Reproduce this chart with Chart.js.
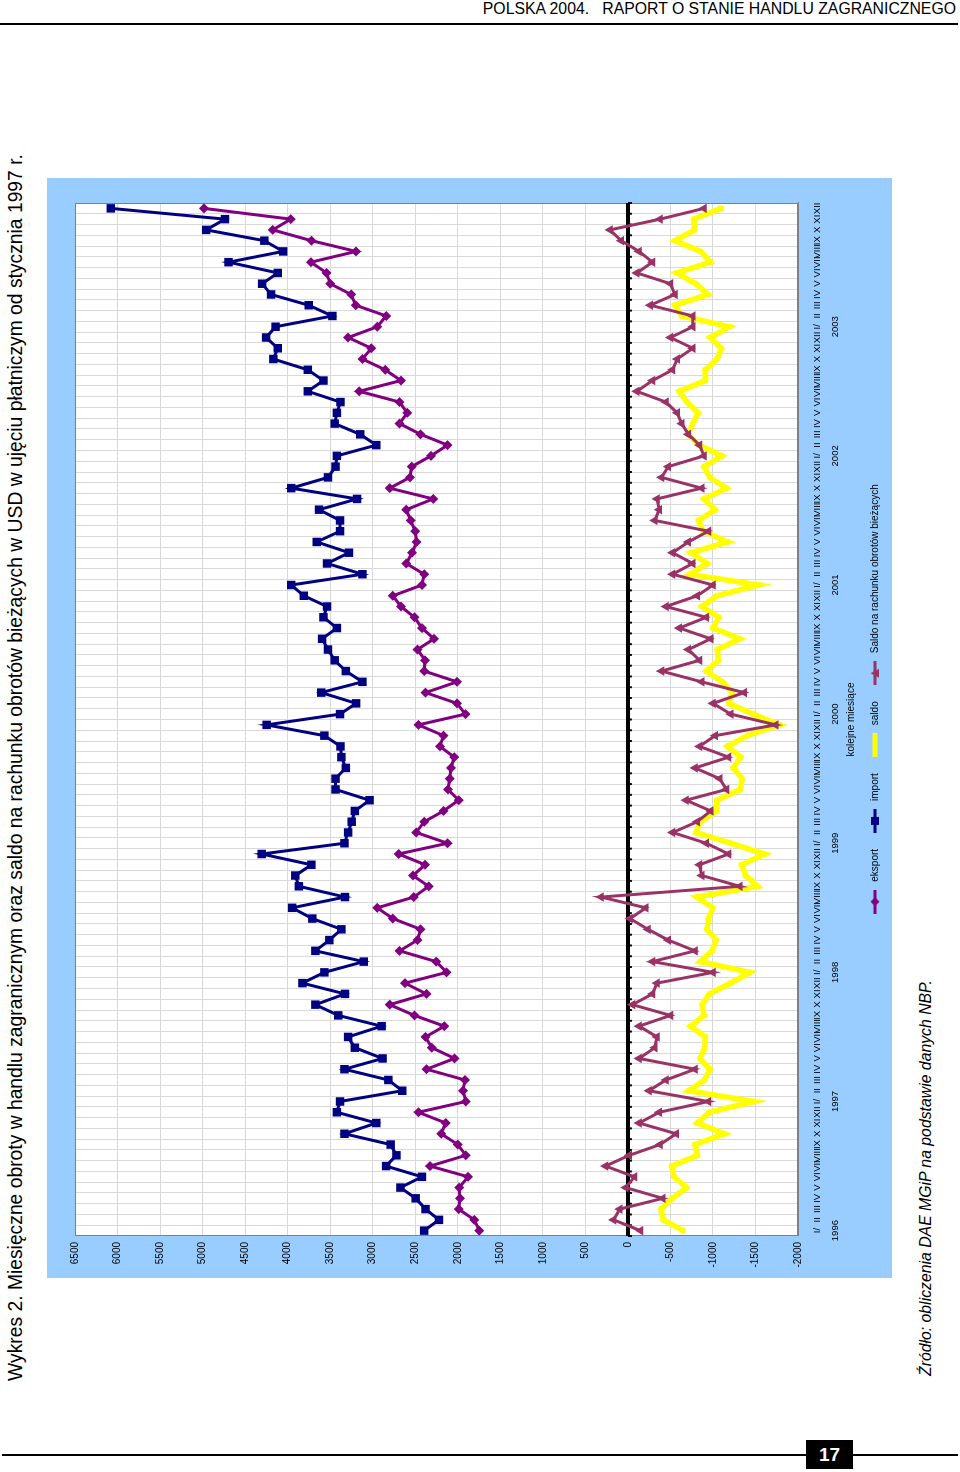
<!DOCTYPE html>
<html><head><meta charset="utf-8">
<script src="https://cdn.jsdelivr.net/npm/chart.js@4.4.0/dist/chart.umd.min.js"></script>
<style>
html,body{margin:0;padding:0;background:#fff;width:960px;height:1472px;overflow:hidden;font-family:Arial,"Liberation Sans",sans-serif;color:#000;}
#hdr{position:absolute;right:4px;top:-1px;font-size:15.8px;line-height:20px;white-space:pre;}
#hline{position:absolute;left:0;top:23px;width:958px;height:0;border-top:2px solid #000;}
#title{position:absolute;left:5px;top:1381px;transform-origin:0 0;transform:rotate(-90deg);white-space:nowrap;font-size:19.3px;line-height:22px;}
#box{position:absolute;left:47px;top:1278px;width:1100px;height:845px;transform-origin:0 0;transform:rotate(-90deg);background:#99CCFF;}
#box canvas{display:block;}
#src{position:absolute;left:916px;top:1376px;transform-origin:0 0;transform:rotate(-90deg);white-space:nowrap;font-size:15.8px;line-height:20px;font-style:italic;}
#fline{position:absolute;left:2px;top:1454px;width:956px;height:0;border-top:2px solid #000;}
#pg{position:absolute;left:806px;top:1440px;width:47px;height:29px;background:#000;color:#fff;font-weight:bold;font-size:19px;line-height:29px;text-align:center;}
</style></head><body>
<div id="hdr">POLSKA 2004.   RAPORT O STANIE HANDLU ZAGRANICZNEGO</div>
<div id="hline"></div>
<div id="title">Wykres 2. Miesięczne obroty w handlu zagranicznym oraz saldo na rachunku obrotów bieżących w USD w ujęciu płatniczym od stycznia 1997 r.</div>
<div id="box"><canvas id="c" width="1100" height="845"></canvas></div>
<div id="src">Źródło: obliczenia DAE MGiP na podstawie danych NBP.</div>
<div id="fline"></div>
<div id="pg">17</div>
<script>
const years = [1996, 1997, 1998, 1999, 2000, 2001, 2002, 2003];
const months = ['I/', 'II', 'III', 'IV', 'V', 'VI', 'VII', 'VIII', 'IX', 'X', 'XI', 'XII'];
const yTicks = {min: -2000, max: 6500, step: 500};

const eksport = [
 1747,1805,1989,1974,1984,1879,2326,1905,2000,2195,2142,2463,
 1905,1937,1916,2368,2037,2305,2379,2158,2510,2800,2368,2621,
 2132,2253,2684,2474,2437,2763,2947,2516,2342,2526,2384,2695,
 2121,2489,2395,2168,1989,2116,2095,2079,2042,2210,2168,2463,
 1910,2010,2379,2010,2395,2384,2474,2279,2421,2510,2668,2763,
 2421,2395,2605,2537,2484,2500,2553,2605,2289,2800,2563,2542,
 2316,2121,2437,2684,2595,2684,3158,2668,2853,3121,3016,3289,
 2947,2842,3200,3253,3500,3542,3726,3195,3721,4174,3963,4984];
const importV = [
 2395,2221,2379,2495,2674,2421,2842,2721,2789,3332,2958,3421,
 3384,2653,2816,3332,2884,3210,3289,2895,3405,3674,3326,3826,
 3568,3105,3674,3510,3368,3710,3947,3326,3868,3910,3721,4305,
 3332,3289,3247,3210,3037,3437,3437,3316,3368,3379,3568,4247,
 3384,3195,3605,3121,3316,3447,3526,3595,3421,3579,3537,3810,
 3958,3121,3537,3279,3658,3384,3384,3631,3184,3958,3526,3437,
 3421,2958,3147,3447,3421,3379,3763,3579,3763,4168,4116,4253,
 4142,3474,3752,4195,4300,4116,4695,4053,4274,4958,4737,6079];
const saldo = [
 -648,-416,-390,-521,-690,-542,-516,-816,-789,-1137,-816,-958,
 -1479,-716,-900,-964,-847,-905,-910,-737,-895,-874,-958,-1205,
 -1436,-852,-990,-1036,-931,-947,-1000,-810,-1526,-1384,-1337,-1610,
 -1211,-800,-852,-1042,-1048,-1321,-1342,-1237,-1326,-1169,-1400,-1784,
 -1474,-1185,-1226,-1111,-921,-1063,-1052,-1316,-1000,-1069,-869,-1047,
 -1537,-726,-932,-742,-1174,-884,-831,-1026,-895,-1158,-963,-895,
 -1105,-837,-710,-763,-826,-695,-605,-911,-910,-1047,-1100,-964,
 -1195,-632,-552,-942,-800,-574,-969,-858,-553,-784,-774,-1095];
const saldoRachunku = [
 -147,168,95,-411,26,-79,263,-16,-379,-568,-132,-368,
 -947,-247,-447,-789,-132,-316,-342,-132,-500,-53,-289,-342,
 -1000,-289,-789,-474,-237,-26,-211,316,-1316,-868,-842,-1184,
 -921,-526,-816,-974,-684,-1158,-1079,-789,-1184,-842,-1026,-1737,
 -1210,-1000,-1368,-868,-395,-842,-711,-974,-605,-921,-447,-816,
 -1000,-526,-763,-526,-711,-947,-316,-368,-342,-868,-395,-474,
 -895,-842,-711,-632,-579,-447,-105,-289,-526,-579,-763,-500,
 -763,-763,-263,-553,-500,-105,-289,-132,79,211,-379,-895];

const categories = [];
years.forEach(y => months.forEach((m, k) => categories.push(k === 0 ? [m, String(y)] : m)));

const C_EKS = '#800080', C_IMP = '#000080', C_SAL = '#FFFF00', C_CA = '#993366';

function legendIcon(color, lw, kind) {
  const c = document.createElement('canvas');
  c.width = 24; c.height = 12;
  const g = c.getContext('2d');
  g.strokeStyle = color; g.lineWidth = lw;
  g.beginPath(); g.moveTo(0, 6); g.lineTo(24, 6); g.stroke();
  g.fillStyle = color;
  g.beginPath();
  if (kind === 'diamond') { g.moveTo(12, 1.5); g.lineTo(16.5, 6); g.lineTo(12, 10.5); g.lineTo(7.5, 6); g.closePath(); g.fill(); }
  else if (kind === 'square') { g.fillRect(8, 2, 8, 8); }
  else if (kind === 'triangle') { g.moveTo(12, 1.5); g.lineTo(16.5, 10); g.lineTo(7.5, 10); g.closePath(); g.fill(); }
  return c;
}
const icons = [legendIcon(C_EKS, 3, 'diamond'), legendIcon(C_IMP, 3, 'square'), legendIcon(C_SAL, 5, null), legendIcon(C_CA, 3, 'triangle')];

const chartBg = {
  id: 'chartBg',
  afterLayout(chart) {
    if (chart.legend) { chart.legend.left += 19; chart.legend.right += 19; }
  },
  beforeDraw(chart) {
    const {ctx, chartArea: a} = chart;
    ctx.save(); ctx.fillStyle = '#fff'; ctx.fillRect(a.left, a.top, a.width, a.height); ctx.restore();
  },
  beforeDatasetsDraw(chart) {
    const {ctx, chartArea: a, scales: {x, y}} = chart;
    ctx.save();
    ctx.strokeStyle = '#808080'; ctx.lineWidth = 1;
    ctx.strokeRect(a.left + 0.5, a.top + 0.5, a.width - 1, a.height - 1);
    const y0 = y.getPixelForValue(0);
    ctx.strokeStyle = '#000'; ctx.lineWidth = 4;
    ctx.beginPath(); ctx.moveTo(a.left, y0); ctx.lineTo(a.right, y0); ctx.stroke();
    const n = categories.length;
    const step = x.getPixelForValue(1) - x.getPixelForValue(0);
    ctx.lineWidth = 2;
    for (let i = 0; i <= n; i++) {
      const px = x.getPixelForValue(0) - step / 2 + i * step;
      ctx.beginPath(); ctx.moveTo(px, y0); ctx.lineTo(px, y0 + 4); ctx.stroke();
    }
    ctx.restore();
  }
};

new Chart(document.getElementById('c'), {
  type: 'line',
  data: {
    labels: categories,
    datasets: [
      {label: 'eksport', data: eksport, borderColor: C_EKS, backgroundColor: C_EKS, borderWidth: 3, pointStyle: 'rectRot', pointRadius: 5, pointBorderWidth: 0, order: 2},
      {label: 'import', data: importV, borderColor: C_IMP, backgroundColor: C_IMP, borderWidth: 3, pointStyle: 'rect', pointRadius: 6, pointBorderWidth: 0, order: 3},
      {label: 'saldo', data: saldo, borderColor: C_SAL, backgroundColor: C_SAL, borderWidth: 5.5, pointStyle: 'circle', pointRadius: 3, pointBorderWidth: 0, order: 1},
      {label: 'Saldo na rachunku obrotów bieżących', data: saldoRachunku, borderColor: C_CA, backgroundColor: C_CA, borderWidth: 3, pointStyle: 'triangle', pointRadius: 5.5, pointBorderWidth: 0, order: 0}
    ]
  },
  options: {
    responsive: false, animation: false, devicePixelRatio: 1,
    layout: {padding: {left: 0, right: 25, top: 28, bottom: 2}},
    elements: {line: {tension: 0}},
    plugins: {
      tooltip: {enabled: false},
      legend: {
        position: 'bottom', fullSize: false,
        labels: {
          usePointStyle: true, pointStyleWidth: 30, padding: 13, color: '#000',
          font: {size: 10, family: 'Arial, "Liberation Sans", sans-serif'},
          sort: (a, b) => a.datasetIndex - b.datasetIndex,
          generateLabels(chart) {
            const items = Chart.defaults.plugins.legend.labels.generateLabels(chart);
            items.forEach(it => { it.pointStyle = icons[it.datasetIndex]; });
            return items;
          }
        }
      }
    },
    scales: {
      x: {
        type: 'category', offset: true,
        grid: {offset: true, color: '#d9d9d9', drawTicks: false},
        border: {color: '#808080'},
        ticks: {autoSkip: false, maxRotation: 0, minRotation: 0, padding: 10, color: '#000',
          font: {size: 9.5, family: 'Arial, "Liberation Sans", sans-serif', lineHeight: '18px'}},
        title: {display: true, text: 'kolejne miesiące', color: '#000', padding: {top: 0, bottom: 0},
          font: {size: 10, family: 'Arial, "Liberation Sans", sans-serif'}},
        afterFit(s) { s.height = 59; }
      },
      y: {
        min: yTicks.min, max: yTicks.max,
        grid: {color: '#d9d9d9', drawTicks: false},
        border: {color: '#808080'},
        ticks: {stepSize: yTicks.step, padding: 6, color: '#000',
          callback: v => String(v),
          font: {size: 10, family: 'Arial, "Liberation Sans", sans-serif'}},
        afterFit(s) { s.width = 42; }
      }
    }
  },
  plugins: [chartBg]
});
</script>
</body></html>
